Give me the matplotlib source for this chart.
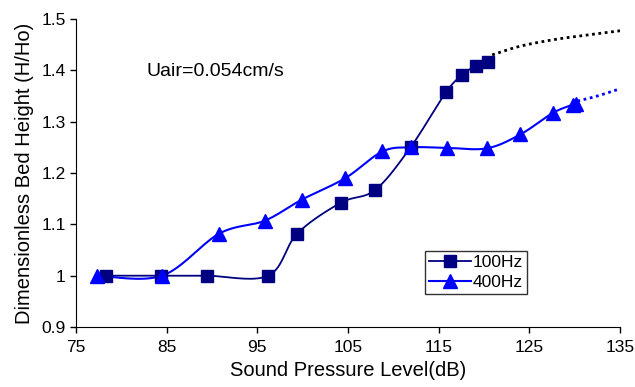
import matplotlib
matplotlib.use("Agg")
import matplotlib.pyplot as plt
import numpy as np

plt.rcParams['font.family'] = ['Liberation Sans', 'DejaVu Sans']

# measured points
spl_100 = [78.3, 84.4, 89.4, 96.2, 99.4, 104.2, 108.0, 111.9, 115.8, 117.6, 119.1, 120.4]
h_100 = [1.0, 1.0, 1.0, 1.0, 1.082, 1.142, 1.167, 1.25, 1.357, 1.391, 1.409, 1.417]

spl_400 = [77.3, 84.5, 90.8, 95.8, 99.9, 104.7, 108.8, 112.0, 115.9, 120.3, 124.0, 127.6, 129.8, 130.1]
h_400 = [1.0, 1.0, 1.082, 1.107, 1.148, 1.19, 1.242, 1.25, 1.249, 1.248, 1.275, 1.317, 1.333, 1.335]

# trend (dotted) extensions
trend_x_100 = [120.9, 124.0, 127.8, 131.5, 135.0]
trend_y_100 = [1.43, 1.447, 1.46, 1.469, 1.477]
trend_x_400 = [130.3, 132.5, 135.0]
trend_y_400 = [1.34, 1.35, 1.364]


def smooth(x, y, n=20):
    # Catmull-Rom style smoothing like a spreadsheet "smoothed line"
    x = np.asarray(x, float)
    y = np.asarray(y, float)
    px = np.concatenate([[x[0]], x, [x[-1]]])
    py = np.concatenate([[y[0]], y, [y[-1]]])
    xs, ys = [], []
    t = np.linspace(0, 1, n)
    for i in range(1, len(px) - 2):
        p0, p1, p2, p3 = (np.array([px[j], py[j]]) for j in (i - 1, i, i + 1, i + 2))
        c1 = p1 + (p2 - p0) / 6.0
        c2 = p2 - (p3 - p1) / 6.0
        for tt in t:
            b = ((1 - tt) ** 3) * p1 + 3 * ((1 - tt) ** 2) * tt * c1 \
                + 3 * (1 - tt) * tt ** 2 * c2 + tt ** 3 * p2
            xs.append(b[0])
            ys.append(b[1])
    return xs, ys


fig = plt.figure(figsize=(6.35, 3.87), dpi=100)
ax = fig.add_axes([0.1197, 0.155, 0.8567, 0.796])

navy = '#000080'
blue = '#0000FF'

sx, sy = smooth(spl_100, h_100)
ax.plot(sx, sy, color=navy, lw=1.3)
sx, sy = smooth(spl_400, h_400)
ax.plot(sx, sy, color=blue, lw=1.5)

ax.plot(spl_100, h_100, ls='none', marker='s', ms=8.7, color=navy)
ax.plot(spl_400, h_400, ls='none', marker='^', ms=9.5, color=blue)

tx, ty = smooth(trend_x_100, trend_y_100)
ax.plot(tx, ty, color='black', ls=(0, (1, 1.3)), lw=2)
tx, ty = smooth(trend_x_400, trend_y_400)
ax.plot(tx, ty, color=blue, ls=(0, (1, 1.3)), lw=2)

# legend proxies
ax.plot([], [], color=navy, marker='s', ms=8.7, lw=1.3, label='100Hz')
ax.plot([], [], color=blue, marker='^', ms=9.5, lw=1.5, label='400Hz')
leg = ax.legend(loc='upper left', bbox_to_anchor=(0.641, 0.247), fontsize=12.5,
                frameon=True, fancybox=False, edgecolor='black',
                handlelength=2.4, handletextpad=0.1, borderpad=0.25,
                labelspacing=0.25, borderaxespad=0)
leg.get_frame().set_linewidth(1.0)

ax.set_xlim(75, 135)
ax.set_ylim(0.9, 1.5)
ax.set_xticks(range(75, 136, 10))
ax.set_yticks([0.9, 1.0, 1.1, 1.2, 1.3, 1.4, 1.5])
ax.set_yticklabels(['0.9', '1', '1.1', '1.2', '1.3', '1.4', '1.5'])
ax.tick_params(labelsize=12.5, direction='out', length=4, width=1, colors='black')
ax.tick_params(axis='x', pad=5)

ax.spines['top'].set_visible(False)
ax.spines['right'].set_visible(False)

ax.set_xlabel('Sound Pressure Level(dB)', fontsize=14.5, labelpad=5)
ax.set_ylabel('Dimensionless Bed Height (H/Ho)', fontsize=14.5, labelpad=5)

ax.text(0.13, 0.828, 'Uair=0.054cm/s', transform=ax.transAxes, fontsize=14,
        va='center')

fig.savefig('out.png', dpi=100)
